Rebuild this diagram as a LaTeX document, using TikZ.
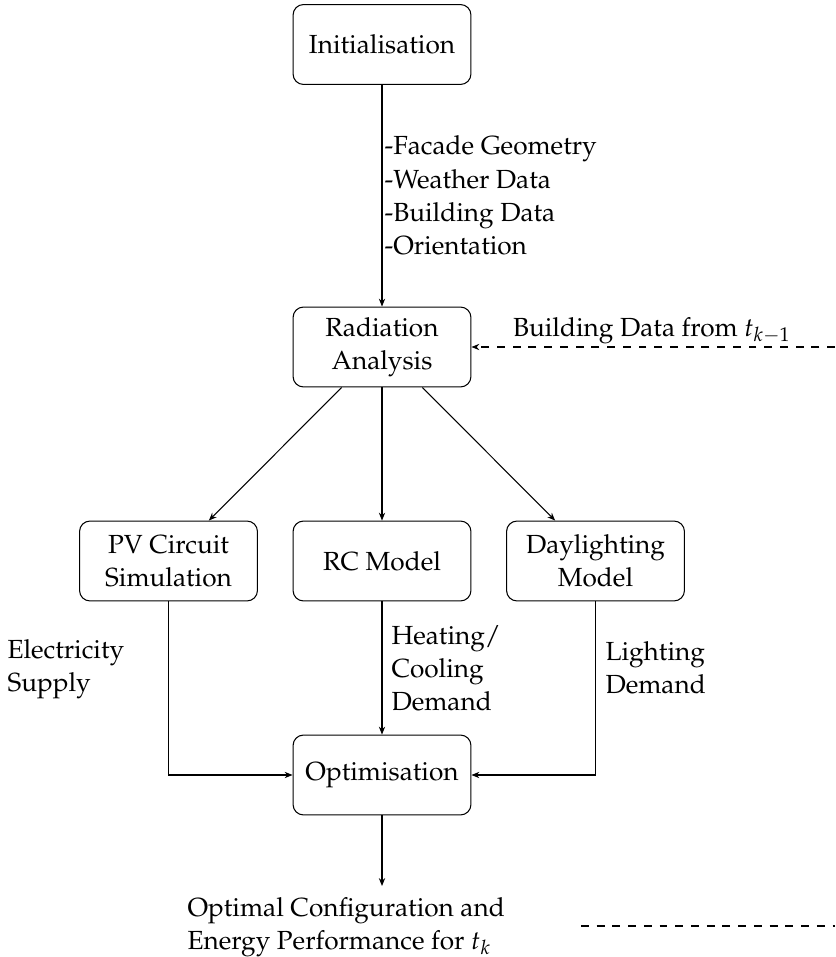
\documentclass[tikz,border=0pt]{standalone}
\usepackage[T1]{fontenc}
\usepackage{mathpazo}
\linespread{1.05}
\usetikzlibrary{arrows.meta}
\newcommand{\mylines}[1]{\begin{tabular}[t]{@{}l@{}}#1\end{tabular}}
\begin{document}
\begin{tikzpicture}[x=0.3817pt,y=-0.3817pt,
  box/.style={draw, rounded corners=4pt, minimum width=67.9pt, minimum height=30.5pt, align=center, inner sep=2pt},
  conn/.style={-{Stealth[length=3pt,width=2.4pt]}},
  lbl/.style={inner sep=0pt, anchor=base west}]
\useasboundingbox (0,0) rectangle (835,957);
% boxes
\node[box] (init) at (382,44.5) {Initialisation};
\node[box] (rad) at (382,347) {Radiation\\Analysis};
\node[box] (pv) at (168.5,561) {PV Circuit\\Simulation};
\node[box] (rc) at (382,561) {RC Model};
\node[box] (day) at (595.5,561) {Daylighting\\Model};
\node[box] (opt) at (382,775) {Optimisation};
% free ends
\coordinate (fbin) at (835,347);
\coordinate (outtip) at (382,886);
\coordinate (fbl) at (581,926);
\coordinate (fbr) at (835,926);
% labels
\node[lbl] (inputs) at (384,155) {\mylines{-Facade Geometry\\-Weather Data\\-Building Data\\-Orientation}};
\node[inner sep=0pt, anchor=base] (prev) at (652,336) {Building Data from $t_{k-1}$};
\node[lbl] (elec) at (7,658) {\mylines{Electricity\\Supply}};
\node[lbl] (heat) at (391,644) {\mylines{Heating/\\Cooling\\Demand}};
\node[lbl] (light) at (605,660) {\mylines{Lighting\\Demand}};
\node[lbl] (result) at (187,916) {\mylines{Optimal Configuration and\\Energy Performance for $t_k$}};
% connectors
\draw[conn] (init) -- (rad);
\draw[conn] (rad) -- (pv);
\draw[conn] (rad) -- (rc);
\draw[conn] (rad) -- (day);
\draw[conn] (rc) -- (opt);
\draw[conn] (pv) |- (opt);
\draw[conn] (day) |- (opt);
\draw[conn] (opt) -- (outtip);
\draw[conn, dashed] (fbin) -- (rad);
\draw[dashed] (fbl) -- (fbr);
\end{tikzpicture}
\end{document}
